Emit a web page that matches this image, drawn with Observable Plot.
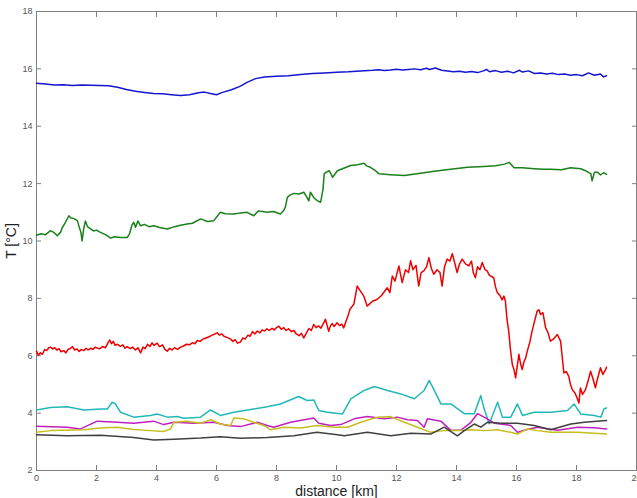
<!DOCTYPE html>
<html><head><meta charset="utf-8">
<script src="https://cdn.jsdelivr.net/npm/d3@7"></script>
<script src="https://cdn.jsdelivr.net/npm/@observablehq/plot@0.6"></script>
<style>html,body{margin:0;padding:0;background:#fff;overflow:hidden} svg{display:block}</style>
</head><body><div id="chart"></div>
<script>
const xTicks = [0,2,4,6,8,10,12,14,16,18,20];
const yTicks = [2,4,6,8,10,12,14,16,18];
const xLabel = "distance [km]";
const yLabel = "T [°C]";

const seriesNames = ["S1","S2","S3","S4","S5","S6","S7"];
const seriesColors = ["#1515d0","#1a801a","#ee0000","#22b8b8","#c020c0","#c6be1c","#404040"];

const blueKm = [0,0.3,0.6,0.9,1.2,1.5,1.8,2.1,2.4,2.7,3.0,3.3,3.6,3.9,4.2,4.5,4.8,5.1,5.4,5.6,5.8,6.0,6.2,6.5,6.8,7.0,7.3,7.6,8.0,8.4,8.8,9.2,9.6,10.0,10.4,10.8,11.2,11.4,11.6,11.8,12.0,12.2,12.4,12.6,12.8,13.0,13.1,13.3,13.5,13.7,13.9,14.1,14.3,14.5,14.7,14.9,15.0,15.1,15.3,15.5,15.7,15.9,16.1,16.2,16.4,16.6,16.8,17.0,17.2,17.4,17.6,17.8,18.0,18.2,18.4,18.6,18.8,18.9,19.0];
const blueT = [15.50,15.47,15.44,15.45,15.42,15.44,15.43,15.42,15.41,15.36,15.28,15.22,15.18,15.14,15.13,15.10,15.07,15.10,15.17,15.19,15.14,15.10,15.18,15.27,15.40,15.52,15.66,15.72,15.74,15.76,15.80,15.84,15.86,15.88,15.90,15.93,15.95,15.97,15.94,15.96,15.99,15.96,15.98,16.00,15.97,16.02,15.98,16.03,15.95,15.93,15.90,15.92,15.88,15.91,15.87,15.93,15.98,15.90,15.94,15.88,15.92,15.86,15.95,15.89,15.93,15.84,15.86,15.82,15.85,15.80,15.82,15.78,15.80,15.76,15.86,15.78,15.82,15.72,15.76];

const greenKm = [0,0.15,0.3,0.47,0.6,0.69,0.8,0.86,0.95,1.08,1.15,1.25,1.36,1.42,1.48,1.52,1.57,1.63,1.7,1.8,1.9,2.0,2.13,2.3,2.47,2.6,2.8,3.02,3.1,3.18,3.24,3.3,3.38,3.47,3.6,3.75,3.91,4.1,4.36,4.6,4.8,5.02,5.2,5.47,5.7,5.91,6.13,6.3,6.58,6.8,7.02,7.24,7.4,7.69,7.9,8.13,8.24,8.3,8.36,8.45,8.58,8.75,8.91,9.0,9.08,9.13,9.25,9.37,9.47,9.55,9.59,9.66,9.76,9.87,10.03,10.2,10.47,10.7,10.92,11.0,11.13,11.3,11.42,11.8,12.26,12.8,13.26,13.8,14.37,14.92,15.3,15.6,15.76,15.92,16.2,16.59,16.9,17.14,17.5,17.8,18.14,18.3,18.48,18.52,18.6,18.7,18.8,18.9,19.0];
const greenT = [10.20,10.25,10.22,10.36,10.28,10.18,10.30,10.47,10.62,10.88,10.80,10.78,10.71,10.50,10.30,10.00,10.40,10.70,10.50,10.42,10.35,10.38,10.30,10.22,10.10,10.15,10.12,10.12,10.25,10.55,10.65,10.48,10.70,10.53,10.58,10.50,10.53,10.47,10.42,10.50,10.55,10.59,10.62,10.77,10.68,10.71,11.00,10.95,10.94,10.98,11.00,10.88,11.05,11.00,11.03,10.94,11.06,11.20,11.52,11.60,11.66,11.64,11.70,11.55,11.40,11.70,11.50,11.40,11.35,11.80,12.34,12.40,12.45,12.22,12.45,12.52,12.63,12.66,12.71,12.62,12.57,12.45,12.34,12.31,12.28,12.36,12.43,12.50,12.57,12.60,12.62,12.68,12.74,12.55,12.55,12.52,12.50,12.50,12.48,12.55,12.52,12.45,12.34,12.10,12.40,12.40,12.30,12.38,12.32];

const redKm = [0,0.06,0.13,0.2,0.27,0.34,0.41,0.47,0.54,0.61,0.68,0.75,0.82,0.91,0.98,1.05,1.13,1.2,1.27,1.35,1.42,1.5,1.58,1.65,1.72,1.8,1.88,1.95,2.02,2.1,2.2,2.3,2.38,2.44,2.5,2.56,2.62,2.7,2.8,2.88,2.95,3.02,3.13,3.2,3.3,3.38,3.47,3.55,3.62,3.7,3.78,3.85,3.92,4.02,4.1,4.2,4.28,4.36,4.44,4.52,4.6,4.7,4.8,4.9,5.0,5.1,5.2,5.28,5.36,5.45,5.55,5.65,5.75,5.85,5.95,6.02,6.1,6.18,6.25,6.35,6.47,6.55,6.62,6.7,6.8,6.88,6.95,7.05,7.12,7.2,7.28,7.36,7.45,7.52,7.6,7.68,7.76,7.85,7.92,8.0,8.08,8.16,8.24,8.32,8.4,8.5,8.58,8.66,8.75,8.83,8.91,9.0,9.08,9.16,9.24,9.32,9.4,9.48,9.56,9.63,9.69,9.74,9.8,9.86,9.92,10.02,10.1,10.18,10.24,10.3,10.35,10.4,10.45,10.58,10.65,10.69,10.8,10.91,11.02,11.2,11.36,11.5,11.69,11.78,11.86,11.95,12.08,12.14,12.19,12.3,12.4,12.47,12.55,12.65,12.74,12.82,12.91,13.0,13.08,13.16,13.24,13.35,13.45,13.52,13.6,13.69,13.78,13.86,13.95,14.02,14.1,14.19,14.3,14.41,14.5,14.56,14.63,14.7,14.78,14.86,14.95,15.02,15.1,15.24,15.3,15.36,15.45,15.52,15.58,15.63,15.68,15.74,15.8,15.86,15.92,15.97,16.02,16.08,16.14,16.19,16.25,16.3,16.36,16.45,16.52,16.6,16.69,16.75,16.8,16.88,16.97,17.05,17.13,17.25,17.36,17.47,17.52,17.58,17.66,17.74,17.8,17.86,17.95,18.02,18.08,18.13,18.2,18.3,18.38,18.47,18.55,18.63,18.7,18.8,18.88,18.97,19.0];
const redT = [6.16,6.02,6.10,6.05,6.22,6.18,6.28,6.30,6.24,6.28,6.20,6.25,6.14,6.18,6.10,6.22,6.25,6.32,6.20,6.24,6.15,6.22,6.18,6.26,6.20,6.26,6.22,6.30,6.27,6.24,6.32,6.28,6.45,6.55,6.42,6.50,6.36,6.40,6.33,6.38,6.26,6.32,6.25,6.30,6.20,6.28,6.10,6.30,6.25,6.40,6.32,6.45,6.36,6.44,6.32,6.38,6.22,6.16,6.26,6.20,6.28,6.22,6.30,6.34,6.40,6.38,6.46,6.42,6.53,6.50,6.58,6.62,6.66,6.72,6.76,6.80,6.72,6.76,6.68,6.64,6.58,6.50,6.56,6.44,6.48,6.62,6.58,6.72,6.68,6.84,6.76,6.86,6.80,6.90,6.86,6.94,6.88,6.96,6.90,6.98,7.03,6.92,6.98,6.88,6.94,6.84,6.88,6.76,6.70,6.78,6.62,6.80,6.95,6.88,7.09,6.98,7.04,6.96,7.12,7.27,7.05,6.85,7.05,7.12,7.02,7.15,7.05,7.10,6.97,7.15,7.30,7.45,7.62,7.80,8.20,8.43,8.25,8.08,7.73,7.90,7.97,8.10,8.37,8.20,8.78,8.60,9.13,8.80,8.55,9.00,8.90,9.31,9.00,9.15,8.43,8.90,8.96,9.10,9.42,9.05,8.84,9.00,8.90,8.43,9.10,9.37,9.30,9.56,9.20,8.90,9.20,9.37,9.20,9.13,9.30,8.90,8.72,9.10,9.00,9.25,9.00,8.96,8.80,8.72,8.40,8.20,8.10,7.95,8.08,7.91,7.30,6.86,6.20,5.70,5.50,5.23,5.60,6.05,5.70,5.52,5.80,5.90,6.16,6.50,6.86,7.20,7.56,7.60,7.44,7.50,6.98,6.80,6.51,6.60,6.74,6.51,6.00,5.40,5.45,5.29,5.00,4.82,4.70,4.53,4.35,4.88,4.65,4.82,5.10,5.46,5.20,4.88,5.20,5.58,5.35,5.52,5.60];

const cyanKm = [0,0.47,1.02,1.58,2.13,2.36,2.52,2.63,2.8,3.24,3.8,4.02,4.36,4.69,4.91,5.47,5.8,6.13,6.58,7.24,7.69,8.13,8.74,9.02,9.24,9.41,9.7,10.2,10.48,10.92,11.26,11.7,12.14,12.59,12.92,13.09,13.26,13.48,13.81,14.26,14.59,14.81,14.92,15.09,15.37,15.53,15.81,16.03,16.2,16.59,17.14,17.7,17.92,18.14,18.59,18.81,18.92,19.0];
const cyanT = [4.11,4.20,4.22,4.11,4.14,4.14,4.38,4.32,4.03,3.86,3.92,3.97,3.86,3.88,3.82,3.86,4.11,3.92,4.03,4.14,4.22,4.32,4.58,4.44,4.46,4.09,4.03,3.97,4.50,4.79,4.93,4.79,4.67,4.50,4.79,5.14,4.79,4.32,4.32,3.98,3.98,4.61,4.15,3.63,4.38,3.86,3.86,4.32,3.92,4.03,4.03,4.09,4.32,3.97,3.92,3.86,4.15,4.18];

const magentaKm = [0,1.02,1.47,2.02,2.69,3.24,3.91,4.24,4.58,5.24,5.91,6.36,6.8,7.36,7.69,7.91,8.47,9.24,9.41,9.81,10.14,10.59,11.03,11.59,12.03,12.37,12.7,12.92,13.03,13.48,13.81,14.14,14.48,14.7,14.92,15.26,15.81,16.03,16.25,16.7,17.37,18.03,18.59,19.0];
const magentaT = [3.54,3.51,3.45,3.72,3.68,3.65,3.72,3.60,3.68,3.65,3.68,3.57,3.53,3.68,3.57,3.51,3.68,3.83,3.65,3.57,3.60,3.80,3.88,3.80,3.86,3.77,3.74,3.51,3.80,3.72,3.40,3.40,3.68,3.98,3.86,3.65,3.57,3.33,3.40,3.51,3.40,3.51,3.49,3.45];

const yellowKm = [0,0.47,1.58,2.13,2.69,3.24,3.8,4.24,4.47,4.58,5.02,5.47,5.8,6.13,6.47,6.58,6.91,7.24,7.58,7.8,8.24,8.8,9.35,9.92,10.37,10.81,11.37,11.81,12.26,12.7,13.14,13.59,14.03,14.48,14.92,15.37,15.81,16.03,16.36,16.7,17.14,18.03,19.0];
const yellowT = [3.33,3.39,3.42,3.48,3.51,3.43,3.39,3.36,3.45,3.68,3.72,3.65,3.77,3.62,3.57,3.83,3.80,3.68,3.57,3.42,3.51,3.48,3.57,3.51,3.51,3.68,3.86,3.88,3.68,3.51,3.33,3.39,3.39,3.42,3.39,3.42,3.33,3.27,3.45,3.39,3.33,3.33,3.27];

const blackKm = [0,1.02,2.13,3.24,3.91,4.58,5.47,6.13,6.8,7.69,8.58,9.35,10.03,10.26,11.03,11.81,12.48,13.14,13.59,14.03,14.26,14.59,14.81,15.03,15.48,16.03,16.59,17.14,17.81,18.26,19.0];
const blackT = [3.25,3.21,3.23,3.15,3.06,3.09,3.13,3.18,3.12,3.15,3.21,3.33,3.25,3.21,3.33,3.21,3.30,3.27,3.51,3.21,3.39,3.62,3.51,3.68,3.65,3.65,3.57,3.42,3.62,3.68,3.74];

const seriesKm = [blueKm, greenKm, redKm, cyanKm, magentaKm, yellowKm, blackKm];
const seriesT = [blueT, greenT, redT, cyanT, magentaT, yellowT, blackT];

const rows = seriesNames.flatMap((name, s) => seriesKm[s].map((k, i) => ({series: name, km: k, t: seriesT[s][i]})));

const chart = Plot.plot({
  width: 637, height: 498,
  marginLeft: 36, marginRight: 1, marginTop: 11, marginBottom: 28,
  style: {fontFamily: "'Liberation Sans', Arial, sans-serif", fontSize: "9px", color: "#555", background: "#fff", overflow: "hidden"},
  x: {domain: [0, 20]},
  y: {domain: [2, 18]},
  color: {domain: seriesNames, range: seriesColors},
  marks: [
    Plot.frame({stroke: "#808080"}),
    Plot.axisX({ticks: xTicks, tickSize: -5, tickPadding: 9, stroke: "#808080", label: xLabel, labelAnchor: "center", labelArrow: "none", labelOffset: 25}),
    Plot.axisX({anchor: "top", ticks: xTicks, tickSize: -5, stroke: "#808080", tickFormat: () => "", label: null}),
    Plot.axisY({ticks: yTicks, tickSize: -5, tickPadding: 9, stroke: "#808080", label: yLabel, labelAnchor: "center", labelArrow: "none", labelOffset: 30}),
    Plot.axisY({anchor: "right", ticks: yTicks, tickSize: -5, stroke: "#808080", tickFormat: () => "", label: null}),
    Plot.line(rows, {x: "km", y: "t", z: "series", stroke: "series", strokeWidth: 1.5})
  ]
});
document.getElementById("chart").appendChild(chart);
chart.querySelectorAll('g[aria-label="x-axis label"], g[aria-label="y-axis label"]').forEach(g => {
  g.setAttribute("font-size", "14");
  g.setAttribute("fill", "#222");
});
</script>
</body></html>
